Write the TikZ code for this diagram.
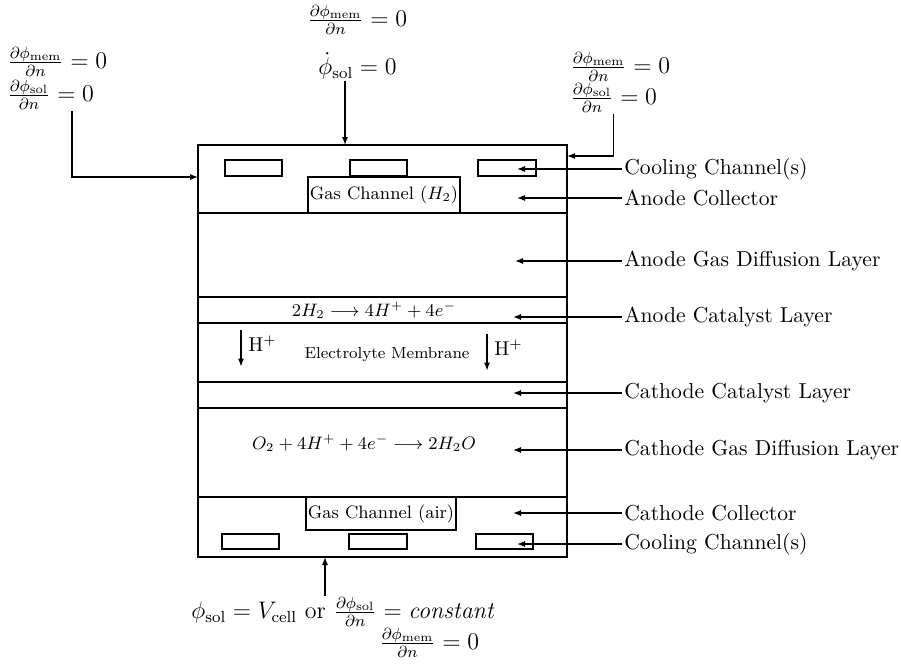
\documentclass[tikz,border=0pt]{standalone}
\usepackage{amsmath}
\usepackage{amssymb}
\usetikzlibrary{arrows.meta,calc,positioning}
\tikzset{
  cellLine/.style={very thick},
  layerLine/.style={thick},
  coolBox/.style={thick},
  gasBox/.style={draw,thick,fill=white,inner sep=1pt,font=\small},
  sideLabel/.style={anchor=west,inner sep=1pt,font=\fontsize{10.8}{12}\selectfont},
  bcText/.style={anchor=west,inner sep=0.5pt,font=\large},
  ptrArrow/.style={-{Latex[length=4pt,width=3pt]},semithick},
}

\begin{document}
\begin{tikzpicture}[x=0.5pt,y=-0.5pt]
\useasboundingbox (0,0) rectangle (901,669);
% cell and its layers
\draw[cellLine] (198,145) rectangle (567,557);
\foreach \yy in {213,297,323,382,408,497}
  \draw[layerLine] (198,\yy) -- (567,\yy);
\foreach \xa/\xb in {225/282,350/407,478/536}
  \draw[coolBox] (\xa,160) rectangle (\xb,176);
\foreach \xa/\xb in {222/279,349/407,476/533}
  \draw[coolBox] (\xa,534) rectangle (\xb,549);
\node[gasBox,minimum width=74pt,minimum height=18pt] (gasH) at (384,195) {Gas Channel ($H_2$)};
\node[gasBox,minimum width=72pt,minimum height=16.5pt] (gasAir) at (381,513.5) {Gas Channel (air)};
\node[font=\small] (anodeRxn) at (374,310) {$2H_2 \longrightarrow 4H^{+} + 4e^{-}$};
\node[font=\small] (cathRxn) at (364,443) {$O_2 + 4H^{+} + 4e^{-} \longrightarrow 2H_2O$};
\node[font=\footnotesize] (memb) at (387,355) {Electrolyte Membrane};
\node[anchor=west,inner sep=1pt] (hLeft) at (246,344) {H$^{+}$};
\node[anchor=west,inner sep=1pt] (hRight) at (492,348) {H$^{+}$};
\draw[ptrArrow] (hLeft.north west) ++(-5,-4) -- ++(0,37);
\draw[ptrArrow] (hRight.north west) ++(-5,-4) -- ++(0,37);
% layer names
\foreach \nm/\yy/\tx/\txt in {coolTop/169/517/{Cooling Channel(s)},anColl/198/517/{Anode Collector},
    anGdl/261/515/{Anode Gas Diffusion Layer},anCat/317/513/{Anode Catalyst Layer},
    caCat/393/513/{Cathode Catalyst Layer},caGdl/450/513/{Cathode Gas Diffusion Layer},
    caColl/513/513/{Cathode Collector},coolBot/544/517/{Cooling Channel(s)}}{
  \node[sideLabel] (\nm) at (622,\yy) {\txt};
  \coordinate (\nm Tip) at (\tx,\yy);
  \draw[ptrArrow] (\nm.west) -- (\nm Tip);
}
% boundary conditions
\coordinate (cellN) at (345,145);
\coordinate (cellW) at (198,177);
\coordinate (leftBend) at (72,177);
\coordinate (cellE) at (567,156);
\coordinate (cellS) at (325,557);
\node[bcText] (topMem) at (306,20) {$\frac{\partial\phi_{\mathrm{mem}}}{\partial n}=0$};
\node[bcText] (topSol) at (317,66) {$\dot{\phi}_{\mathrm{sol}}=0$};
\node[bcText] (leftMem) at (6,62) {$\frac{\partial\phi_{\mathrm{mem}}}{\partial n}=0$};
\node[bcText] (leftSol) at (6,95) {$\frac{\partial\phi_{\mathrm{sol}}}{\partial n}=0$};
\node[bcText] (rightMem) at (569,67) {$\frac{\partial\phi_{\mathrm{mem}}}{\partial n}=0$};
\node[bcText] (rightSol) at (569,98) {$\frac{\partial\phi_{\mathrm{sol}}}{\partial n}=0$};
\node[bcText] (botSol) at (190,612) {$\phi_{\mathrm{sol}}=V_{\mathrm{cell}}$ or $\frac{\partial\phi_{\mathrm{sol}}}{\partial n}=\mathit{constant}$};
\node[bcText] (botMem) at (378,643) {$\frac{\partial\phi_{\mathrm{mem}}}{\partial n}=0$};
\draw[ptrArrow] (topSol.south -| cellN) -- (cellN);
\draw[ptrArrow] (leftSol.south -| leftBend) |- (cellW);
\draw[ptrArrow] (rightSol.south) |- (cellE);
\draw[ptrArrow] (botSol.north -| cellS) -- (cellS);
\end{tikzpicture}
\end{document}
